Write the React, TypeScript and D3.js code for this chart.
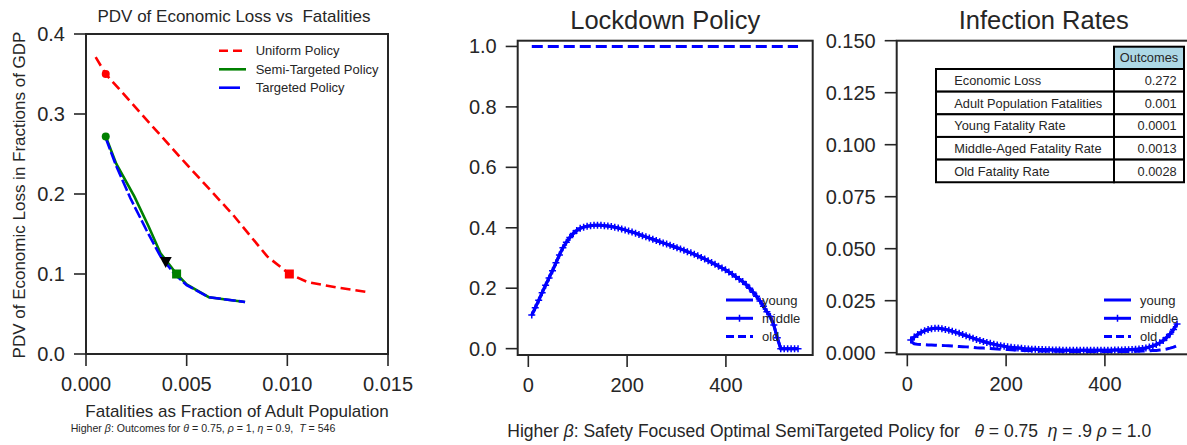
import React from "react";
import * as d3 from "d3";

const FONT = '"Liberation Sans", Arial, Helvetica, sans-serif';
const INK = "#262626";
const BLUE = "#0000ff";

// ---- left panel: loss vs fatalities frontier
const uniformFatal = [0.00048, 0.00098, 0.003, 0.005, 0.0073, 0.009, 0.0101, 0.011, 0.0125, 0.0141];
const uniformLoss = [0.371, 0.35, 0.293, 0.237, 0.174, 0.122, 0.1, 0.09, 0.083, 0.077];
const semiFatal = [0.00098, 0.0015, 0.0024, 0.0031, 0.0037, 0.0045, 0.005, 0.0061, 0.0079];
const semiLoss = [0.272, 0.238, 0.197, 0.16, 0.126, 0.1, 0.087, 0.071, 0.065];
const targFatal = [0.00098, 0.0015, 0.0022, 0.003, 0.0037, 0.0044, 0.005, 0.0061, 0.0079];
const targLoss = [0.27, 0.235, 0.195, 0.155, 0.122, 0.1, 0.086, 0.071, 0.065];
// highlighted points
const uniformStart = [0.00098, 0.35];
const uniformSquare = [0.0101, 0.1];
const semiStart = [0.00098, 0.272];
const semiSquare = [0.0045, 0.1];
const blackTriangle = [0.00396, 0.115];

const fatalTicks = [0, 0.005, 0.01, 0.015];
const lossTicks = [0, 0.1, 0.2, 0.3, 0.4];

// ---- middle / right panels: weekly grid of days
const days = d3.range(7, 547, 7);

const lockdownMiddle = [
  0.111, 0.135, 0.16, 0.185, 0.21, 0.234, 0.258, 0.284, 0.31, 0.334,
  0.352, 0.368, 0.381, 0.391, 0.398, 0.402, 0.405, 0.407, 0.408, 0.408,
  0.408, 0.407, 0.406, 0.404, 0.402, 0.399, 0.396, 0.393, 0.389, 0.386,
  0.382, 0.378, 0.374, 0.37, 0.366, 0.362, 0.358, 0.354, 0.35, 0.346,
  0.342, 0.338, 0.334, 0.33, 0.326, 0.321, 0.317, 0.312, 0.307, 0.302,
  0.297, 0.291, 0.285, 0.279, 0.273, 0.267, 0.261, 0.254, 0.246, 0.238,
  0.23, 0.222, 0.212, 0.2, 0.187, 0.173, 0.158, 0.14, 0.122, 0.106,
  0.078, 0.036, 0, 0, 0, 0, 0, 0,
];
const lockdownYoung = lockdownMiddle; // young sits right under middle
const oldDays = [7, 546];
const lockdownOld = [1.0, 1.0];

const infectionMiddle = [
  0.0061, 0.0075, 0.0088, 0.0098, 0.0106, 0.0112, 0.0115, 0.0117, 0.0117, 0.0115,
  0.0112, 0.0108, 0.0103, 0.0098, 0.0093, 0.0087, 0.0082, 0.0076, 0.007, 0.0064,
  0.0059, 0.0054, 0.0049, 0.0045, 0.0041, 0.0037, 0.0034, 0.0031, 0.0028, 0.0026,
  0.0024, 0.0022, 0.0021, 0.0019, 0.0018, 0.0017, 0.0016, 0.0015, 0.0015, 0.0014,
  0.0014, 0.0013, 0.0013, 0.0013, 0.0012, 0.0012, 0.0012, 0.0012, 0.0012, 0.0012,
  0.0012, 0.0012, 0.0012, 0.0012, 0.0012, 0.0012, 0.0012, 0.0012, 0.0012, 0.0013,
  0.0013, 0.0013, 0.0014, 0.0014, 0.0015, 0.0016, 0.0018, 0.002, 0.0023, 0.0027,
  0.0032, 0.0039, 0.0048, 0.0059, 0.0073, 0.009, 0.0112, 0.0138,
];
const infectionYoung = infectionMiddle;
const infectionOld = [
  0.0055, 0.0043, 0.004, 0.0039, 0.0038, 0.0037, 0.0037, 0.0036, 0.0035, 0.0035,
  0.0034, 0.0033, 0.0032, 0.0031, 0.003, 0.0029, 0.0028, 0.0027, 0.0026, 0.0024,
  0.0023, 0.0022, 0.0021, 0.002, 0.0019, 0.0018, 0.0017, 0.0016, 0.0015, 0.0014,
  0.0013, 0.0012, 0.0011, 0.0011, 0.001, 0.0009, 0.0009, 0.0008, 0.0008, 0.0008,
  0.0007, 0.0007, 0.0007, 0.0007, 0.0006, 0.0006, 0.0006, 0.0006, 0.0006, 0.0006,
  0.0006, 0.0006, 0.0006, 0.0006, 0.0006, 0.0006, 0.0006, 0.0006, 0.0006, 0.0006,
  0.0006, 0.0006, 0.0006, 0.0006, 0.0006, 0.0007, 0.0007, 0.0008, 0.0008, 0.0009,
  0.001, 0.0011, 0.0013, 0.0015, 0.0018, 0.0022, 0.0027, 0.0034,
];

const dayTicks = [0, 200, 400];
const lockTicks = [0, 0.2, 0.4, 0.6, 0.8, 1.0];
const infTicks = [0, 0.025, 0.05, 0.075, 0.1, 0.125, 0.15];

const tableLabels = [
  "Economic Loss",
  "Adult Population Fatalities",
  "Young Fatality Rate",
  "Middle-Aged Fatality Rate",
  "Old Fatality Rate",
];
const tableValues = ["0.272", "0.001", "0.0001", "0.0013", "0.0028"];

function pts(xs: number[], ys: number[]): [number, number][] {
  return xs.map((x, i) => [x, ys[i]]);
}

type Scale = d3.ScaleLinear<number, number>;

function Frame({ x, y, fmt, xt, yt }: { x: Scale; y: Scale; fmt: [string, string]; xt: number[]; yt: number[] }) {
  const [x0, x1] = x.range();
  const [y0, y1] = y.range();
  const fx = d3.format(fmt[0]);
  const fy = d3.format(fmt[1]);
  return (
    <g>
      <rect x={x0} y={y1} width={x1 - x0} height={y0 - y1} fill="none" stroke={INK} strokeWidth={2} />
      {yt.map((t) => (
        <g key={"y" + t}>
          <line x1={x0 - 12} x2={x0} y1={y(t)} y2={y(t)} stroke={INK} strokeWidth={1.6} />
          <text x={x0 - 21} y={y(t) + 7} textAnchor="end" fontSize={20} fill={INK}>
            {fy(t)}
          </text>
        </g>
      ))}
      {xt.map((t) => (
        <g key={"x" + t}>
          <line x1={x(t)} x2={x(t)} y1={y0} y2={y0 + 12} stroke={INK} strokeWidth={1.6} />
          <text x={x(t)} y={y0 + 36.5} textAnchor="middle" fontSize={20} fill={INK}>
            {fx(t)}
          </text>
        </g>
      ))}
    </g>
  );
}

const plus = "M-3.5,0H3.5M0,-3.5V3.5";

function AgeLegend({ x, y }: { x: number; y: number }) {
  const rows = ["young", "middle", "old"];
  return (
    <g>
      {rows.map((r, i) => {
        const yy = y + i * 18.3;
        return (
          <g key={r}>
            <line
              x1={x}
              x2={x + 27}
              y1={yy}
              y2={yy}
              stroke={BLUE}
              strokeWidth={3}
              strokeDasharray={r === "old" ? "8,4" : undefined}
            />
            {r === "middle" && <path d={plus} transform={`translate(${x + 13.5},${yy})`} stroke={BLUE} strokeWidth={1.5} />}
            <text x={x + 36} y={yy + 4.6} fontSize={13} fill={INK}>
              {r}
            </text>
          </g>
        );
      })}
    </g>
  );
}

export default function App() {
  // left
  const lx = d3.scaleLinear().domain([0, 0.015]).range([86, 388]);
  const ly = d3.scaleLinear().domain([0, 0.4]).range([354, 34]);
  const fLine = d3.line<[number, number]>().x((d) => lx(d[0])).y((d) => ly(d[1]));

  // middle
  const mx = d3.scaleLinear().domain([-21.5, 575.7]).range([517.7, 812.7]);
  const my = d3.scaleLinear().domain([-0.021, 1.019]).range([355, 40.7]);
  const mLine = d3.line<[number, number]>().x((d) => mx(d[0])).y((d) => my(d[1]));

  // right
  const rx = d3.scaleLinear().domain([-21.5, 575.7]).range([896.7, 1191.7]);
  const ry = d3.scaleLinear().domain([-0.00077, 0.15]).range([354.3, 40.7]);
  const rLine = d3.line<[number, number]>().x((d) => rx(d[0])).y((d) => ry(d[1]));

  const tx0 = 936, tx1 = 1114, tx2 = 1184;
  const headTop = 46.7, rowTop = 69, rowH = 22.65;

  return (
    <div style={{ position: "absolute", left: 0, top: 0 }}>
      <svg width={1187} height={445} style={{ display: "block", fontFamily: FONT, background: "#fff" }}>
        <rect width={1187} height={445} fill="#fff" />

        {/* ---------- left panel ---------- */}
        <text x={234} y={21.5} textAnchor="middle" fontSize={17} fill={INK} style={{ whiteSpace: "pre" }}>
          PDV of Economic Loss vs  Fatalities
        </text>
        <path d={fLine(pts(uniformFatal, uniformLoss)) || ""} fill="none" stroke="#ff0000" strokeWidth={2.6} strokeDasharray="10,5" />
        <path d={fLine(pts(semiFatal, semiLoss)) || ""} fill="none" stroke="#008000" strokeWidth={2.6} />
        <path d={fLine(pts(targFatal, targLoss)) || ""} fill="none" stroke={BLUE} strokeWidth={2.6} strokeDasharray="12,3" />
        <circle cx={lx(uniformStart[0])} cy={ly(uniformStart[1])} r={4} fill="#ff0000" />
        <rect x={lx(uniformSquare[0]) - 4.5} y={ly(uniformSquare[1]) - 4.5} width={9} height={9} fill="#ff0000" />
        <circle cx={lx(semiStart[0])} cy={ly(semiStart[1])} r={4} fill="#008000" />
        <rect x={lx(semiSquare[0]) - 4.5} y={ly(semiSquare[1]) - 4.5} width={9} height={9} fill="#008000" />
        <path
          d="M-6,-5L6,-5L0,6Z"
          transform={`translate(${lx(blackTriangle[0])},${ly(blackTriangle[1])})`}
          fill="#000"
        />
        <Frame x={lx} y={ly} fmt={[".3f", ".1f"]} xt={fatalTicks} yt={lossTicks} />
        {/* legend */}
        <g>
          <line x1={219} x2={246} y1={50.7} y2={50.7} stroke="#ff0000" strokeWidth={2.6} strokeDasharray="9,5" />
          <text x={255.7} y={55.3} fontSize={13} fill={INK}>Uniform Policy</text>
          <line x1={219} x2={246} y1={69.3} y2={69.3} stroke="#008000" strokeWidth={2.6} />
          <text x={255.7} y={73.9} fontSize={13} fill={INK}>Semi-Targeted Policy</text>
          <line x1={219} x2={240} y1={87.7} y2={87.7} stroke={BLUE} strokeWidth={2.6} />
          <text x={255.7} y={92.3} fontSize={13} fill={INK}>Targeted Policy</text>
        </g>
        <text
          transform="translate(25,195) rotate(-90)"
          textAnchor="middle"
          fontSize={17}
          fill={INK}
        >
          PDV of Economic Loss in Fractions of GDP
        </text>
        <text x={237} y={416.5} textAnchor="middle" fontSize={17} fill={INK}>
          Fatalities as Fraction of Adult Population
        </text>
        <text x={70.7} y={431.5} fontSize={10.6} fill={INK} style={{ whiteSpace: "pre" }}>
          Higher <tspan fontStyle="italic">β</tspan>: Outcomes for <tspan fontStyle="italic">θ</tspan> = 0.75,{" "}
          <tspan fontStyle="italic">ρ</tspan> = 1, <tspan fontStyle="italic">η</tspan> = 0.9,{"  "}
          <tspan fontStyle="italic">T</tspan> = 546
        </text>

        {/* ---------- middle panel: lockdown ---------- */}
        <text x={665.2} y={28.5} textAnchor="middle" fontSize={25.5} fill={INK}>
          Lockdown Policy
        </text>
        <path d={mLine(pts(days, lockdownYoung)) || ""} fill="none" stroke={BLUE} strokeWidth={3} />
        <path d={mLine(pts(days, lockdownMiddle)) || ""} fill="none" stroke={BLUE} strokeWidth={3} />
        {days.map((d, i) => (
          <path key={"lm" + d} d={plus} transform={`translate(${mx(d)},${my(lockdownMiddle[i])})`} stroke={BLUE} strokeWidth={1.5} />
        ))}
        <path d={mLine(pts(oldDays, lockdownOld)) || ""} fill="none" stroke={BLUE} strokeWidth={3} strokeDasharray="11,5" />
        <Frame x={mx} y={my} fmt={["d", ".1f"]} xt={dayTicks} yt={lockTicks} />
        <AgeLegend x={726} y={300} />

        {/* ---------- right panel: infections ---------- */}
        <text x={1043.7} y={28.5} textAnchor="middle" fontSize={25.5} fill={INK}>
          Infection Rates
        </text>
        <path d={rLine(pts(days, infectionYoung)) || ""} fill="none" stroke={BLUE} strokeWidth={3} />
        <path d={rLine(pts(days, infectionMiddle)) || ""} fill="none" stroke={BLUE} strokeWidth={3} />
        {days.map((d, i) => (
          <path key={"im" + d} d={plus} transform={`translate(${rx(d)},${ry(infectionMiddle[i])})`} stroke={BLUE} strokeWidth={1.5} />
        ))}
        <path d={rLine(pts(days, infectionOld)) || ""} fill="none" stroke={BLUE} strokeWidth={3} strokeDasharray="11,5" />
        <Frame x={rx} y={ry} fmt={["d", ".3f"]} xt={dayTicks} yt={infTicks} />
        <AgeLegend x={1104} y={300} />

        {/* outcomes table */}
        <g>
          <rect x={tx1} y={headTop} width={tx2 - tx1} height={rowTop - headTop} fill="#add8e6" stroke="#000" strokeWidth={2} />
          <text x={(tx1 + tx2) / 2} y={(headTop + rowTop) / 2 + 4.6} textAnchor="middle" fontSize={12.8} fill={INK}>
            Outcomes
          </text>
          {tableLabels.map((lab, i) => {
            const top = rowTop + i * rowH;
            return (
              <g key={lab}>
                <rect x={tx0} y={top} width={tx1 - tx0} height={rowH} fill="#fff" stroke="#000" strokeWidth={2} />
                <rect x={tx1} y={top} width={tx2 - tx1} height={rowH} fill="#fff" stroke="#000" strokeWidth={2} />
                <text x={tx0 + 18.3} y={top + rowH / 2 + 4.6} fontSize={12.8} fill={INK}>
                  {lab}
                </text>
                <text x={tx2 - 7.3} y={top + rowH / 2 + 4.6} textAnchor="end" fontSize={12.8} fill={INK}>
                  {tableValues[i]}
                </text>
              </g>
            );
          })}
        </g>

        <text x={507.3} y={436.5} fontSize={17.5} fill={INK} style={{ whiteSpace: "pre" }}>
          Higher <tspan fontStyle="italic">β</tspan>: Safety Focused Optimal SemiTargeted Policy for{"   "}
          <tspan fontStyle="italic">θ</tspan> = 0.75{"  "}<tspan fontStyle="italic">η</tspan> = .9{" "}
          <tspan fontStyle="italic">ρ</tspan> = 1.0
        </text>
      </svg>
    </div>
  );
}
